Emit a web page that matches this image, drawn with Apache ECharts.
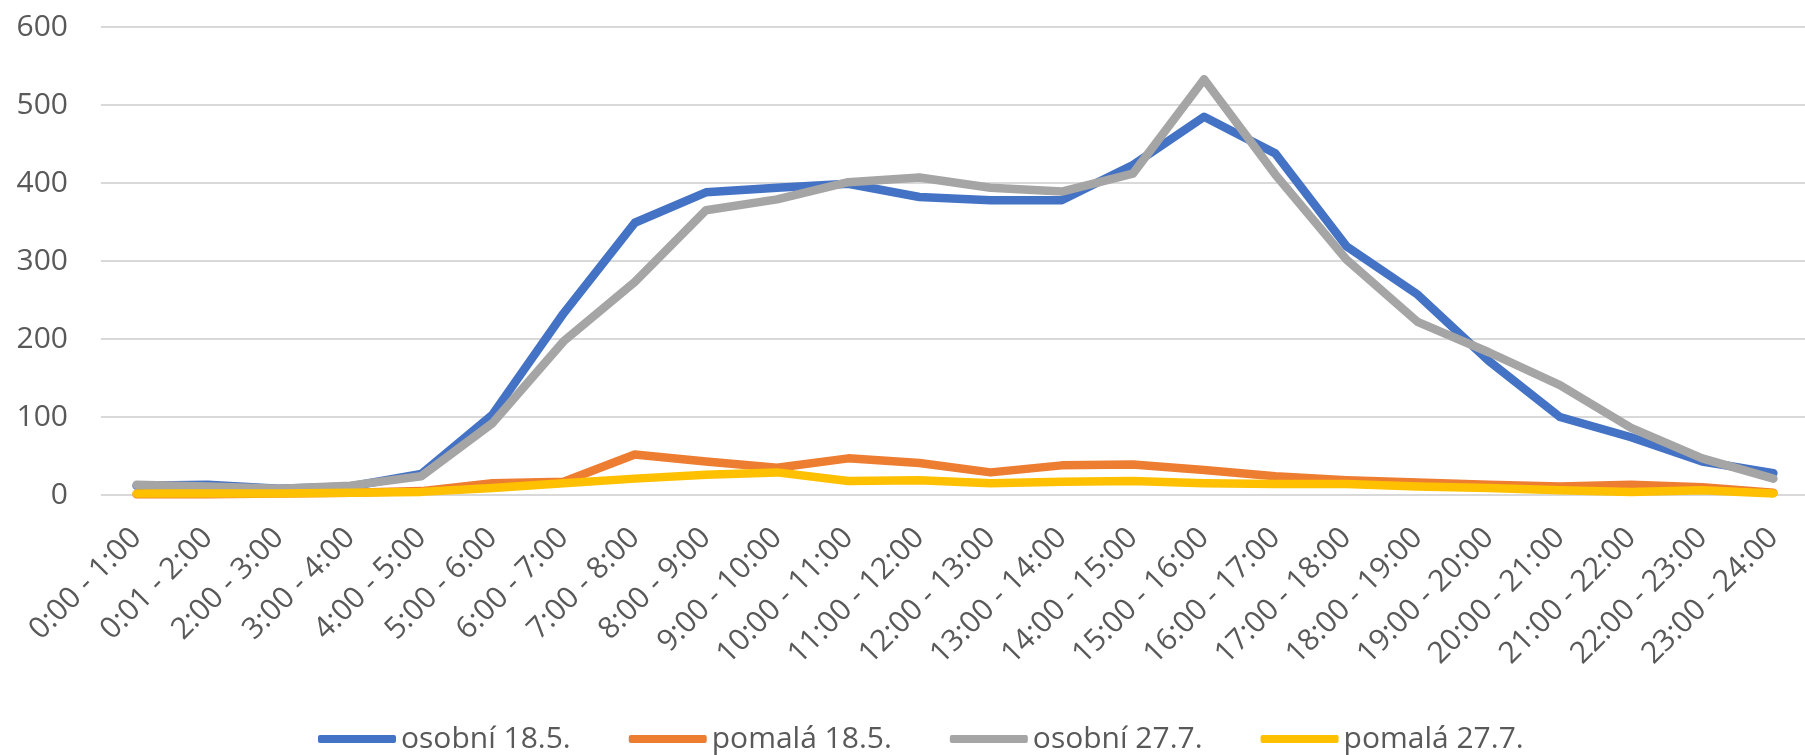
<!DOCTYPE html>
<html>
<head>
<meta charset="utf-8">
<script src="https://cdn.jsdelivr.net/npm/echarts@6/dist/echarts.min.js"></script>
<style>
  html, body { margin: 0; padding: 0; background: #fff; }
  #chart { width: 1805px; height: 755px; }
</style>
</head>
<body>
<div id="chart"></div>
<script>
  // hodinove intervaly (vcetne preklepu "0:01" z puvodni tabulky)
  var hours = ['0:00 - 1:00', '0:01 - 2:00', '2:00 - 3:00', '3:00 - 4:00', '4:00 - 5:00', '5:00 - 6:00',
    '6:00 - 7:00', '7:00 - 8:00', '8:00 - 9:00', '9:00 - 10:00', '10:00 - 11:00', '11:00 - 12:00',
    '12:00 - 13:00', '13:00 - 14:00', '14:00 - 15:00', '15:00 - 16:00', '16:00 - 17:00', '17:00 - 18:00',
    '18:00 - 19:00', '19:00 - 20:00', '20:00 - 21:00', '21:00 - 22:00', '22:00 - 23:00', '23:00 - 24:00'];

  var osobni185 = [12, 13, 8, 11, 27, 103, 233, 349, 388, 394, 399, 382, 378, 378, 423, 485, 438, 319, 257, 172, 100, 74, 43, 28];
  var pomala185 = [1, 1, 2, 3, 5, 15, 17, 52, 43, 35, 47, 41, 29, 38, 39, 32, 24, 19, 16, 13, 11, 13, 10, 3];
  var osobni277 = [13, 11, 8, 12, 24, 92, 197, 273, 365, 379, 401, 407, 394, 389, 412, 533, 411, 302, 222, 183, 141, 86, 47, 21];
  var pomala277 = [2, 2, 2, 3, 4, 9, 15, 21, 26, 29, 18, 19, 15, 17, 18, 15, 14, 14, 11, 9, 6, 4, 6, 2];

  var yTicks = { min: 0, max: 600, step: 100 };

  var font = '"Open Sans", sans-serif';
  var txt = '#595959';

  var chart = echarts.init(document.getElementById('chart'));

  function line(name, data, color) {
    return {
      name: name,
      type: 'line',
      data: data,
      symbol: 'none',
      smooth: false,
      lineStyle: { color: color, width: 8.5, cap: 'round', join: 'round' },
      itemStyle: { color: color },
      emphasis: { disabled: true }
    };
  }

  chart.setOption({
    animation: false,
    grid: { left: 101, right: -4, top: 27, bottom: 260, outerBoundsMode: 'none' },
    legend: {
      left: 313,
      top: 719,
      icon: 'roundRect',
      itemWidth: 78,
      itemHeight: 8,
      itemGap: 58,
      textStyle: { fontFamily: font, fontSize: 30, color: txt },
      data: ['osobní 18.5.', 'pomalá 18.5.', 'osobní 27.7.', 'pomalá 27.7.']
    },
    xAxis: {
      type: 'category',
      data: hours,
      boundaryGap: true,
      axisLine: { show: false },
      axisTick: { show: false },
      axisLabel: {
        interval: 0,
        rotate: 45,
        margin: 38,
        fontFamily: font,
        fontSize: 30,
        color: txt
      }
    },
    yAxis: {
      type: 'value',
      min: yTicks.min,
      max: yTicks.max,
      interval: yTicks.step,
      axisLine: { show: false },
      axisTick: { show: false },
      axisLabel: { margin: 33, fontFamily: font, fontSize: 30, color: txt },
      splitLine: { lineStyle: { color: '#D9D9D9', width: 2 } }
    },
    series: [
      line('osobní 18.5.', osobni185, '#4472C4'),
      line('pomalá 18.5.', pomala185, '#ED7D31'),
      line('osobní 27.7.', osobni277, '#A5A5A5'),
      line('pomalá 27.7.', pomala277, '#FFC000')
    ]
  });
</script>
</body>
</html>
